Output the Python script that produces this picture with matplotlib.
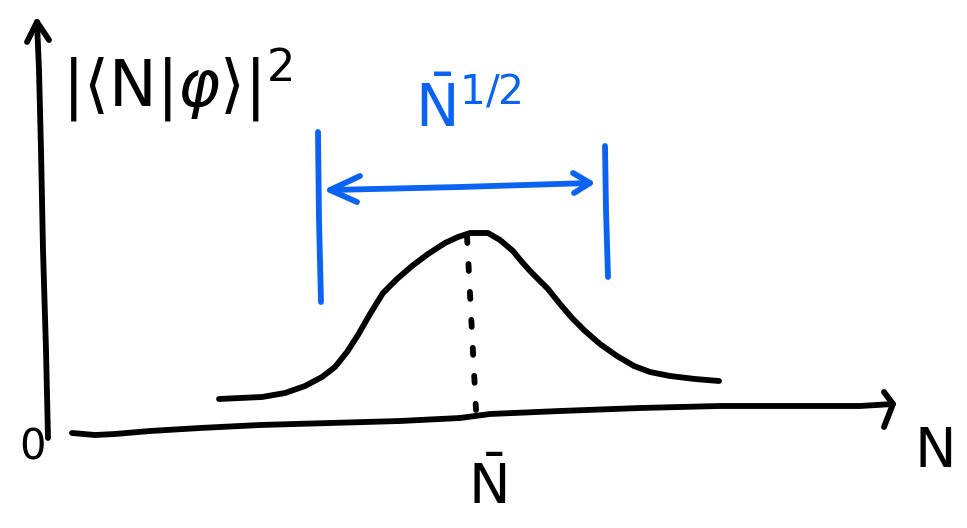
import numpy as np
import matplotlib.pyplot as plt

# canvas coordinates: x to the right, y downward (pixels)
W, H = 967, 528

# bell curve |<N|phi>|^2 traced by hand
curve_x = [219, 240, 262, 285, 305, 322, 335, 347, 358, 370, 383, 397, 412, 428, 445, 458, 470,
           488, 500, 513, 522, 531, 548, 560, 572, 585, 600, 617, 634, 650, 670, 695, 719]
curve_y = [399, 398, 397, 393, 386, 377, 367, 352, 335, 314, 293, 279, 266, 254, 243, 237, 233,
           233, 240, 251, 262, 272, 289, 304, 318, 331, 344, 356, 366, 372, 376, 379, 381]

# dotted guide from the peak down to N-bar
guide_x = [467, 476]
guide_y = [236, 410]

# hand-drawn axes
xaxis_x = [72, 95, 115, 150, 200, 260, 330, 400, 460, 490, 560, 640, 720, 800, 860, 893]
xaxis_y = [433, 435, 434, 431, 428, 425, 423, 421, 418, 414, 411, 408, 406, 406, 406, 404]
yaxis_x = [48, 46, 43, 41, 39, 37]
yaxis_y = [438, 350, 250, 150, 70, 22]

# blue error bars and span arrow
bar_left_x, bar_left_y = [318, 319, 321], [132, 220, 302]
bar_right_x, bar_right_y = [605, 606, 608], [146, 210, 277]
span_x, span_y = [330, 460, 590], [190, 187, 183]

BLUE = '#0b63f2'
INK = 'black'

fig = plt.figure(figsize=(W / 100, H / 100), dpi=100)
ax = fig.add_axes([0, 0, 1, 1])
ax.set_xlim(0, W)
ax.set_ylim(H, 0)
ax.axis('off')

lw = 4.2
kw = dict(color=INK, lw=lw, solid_capstyle='round', solid_joinstyle='round')

# axes with arrow heads
ax.plot(xaxis_x, xaxis_y, **kw)
ax.plot([884, 893, 884], [392, 404, 427], **kw)
ax.plot(yaxis_x, yaxis_y, **kw)
ax.plot([27, 37, 49], [42, 22, 40], **kw)

# the curve and its dotted centre line
ax.plot(curve_x, curve_y, **kw)
ax.plot(guide_x, guide_y, color=INK, lw=lw, linestyle=(0, (1.2, 3.6)),
        dash_capstyle='round')

# blue width marker
bkw = dict(color=BLUE, lw=lw, solid_capstyle='round', solid_joinstyle='round')
ax.plot(bar_left_x, bar_left_y, **bkw)
ax.plot(bar_right_x, bar_right_y, **bkw)
ax.plot(span_x, span_y, **bkw)
ax.plot([360, 330, 357], [176, 190, 202], **bkw)
ax.plot([573, 590, 574], [173, 183, 193], **bkw)

# labels
ax.text(62, 85, r'$|\langle \mathrm{N}|\varphi\rangle|^2$', fontsize=46, color=INK,
        ha='left', va='center')
ax.text(468, 110, r'$\bar{\mathrm{N}}^{1/2}$', fontsize=42, color=BLUE,
        ha='center', va='center')
ax.text(33, 448, '0', fontsize=30, color=INK, ha='center', va='center')
ax.text(935, 452, 'N', fontsize=40, color=INK, ha='center', va='center')
ax.text(487, 488, r'$\bar{\mathrm{N}}$', fontsize=40, color=INK, ha='center', va='center')

fig.savefig('out.png', dpi=100)
